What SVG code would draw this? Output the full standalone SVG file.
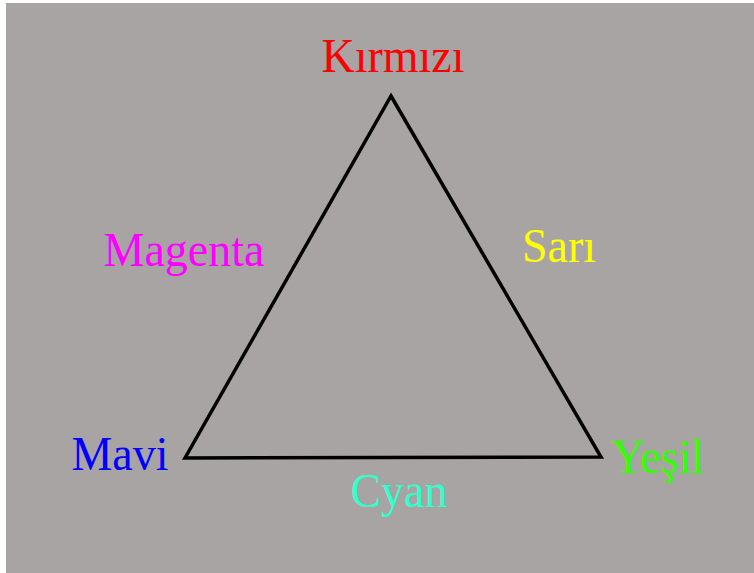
<svg xmlns="http://www.w3.org/2000/svg" width="754" height="573" viewBox="0 0 754 573">
<style>
text{font-family:"Liberation Serif","Times New Roman",serif;font-size:46px}
.edge{fill:none;stroke:#000;stroke-width:3.5;stroke-linejoin:miter}
</style>
<rect x="0" y="0" width="754" height="573" fill="#fff"/>
<rect x="6" y="3" width="748" height="570" fill="#a8a4a4"/>
<g id="connectors">
<polygon class="edge" points="391,96 601,457 185,458"/>
</g>
<g id="kirmizi"><text x="393" y="72" text-anchor="middle" fill="#ff0000" transform="translate(0,72) scale(1,1.05) translate(0,-72)">Kırmızı</text></g>
<g id="magenta"><text x="184" y="266" text-anchor="middle" fill="#ff00ff" transform="translate(0,266) scale(1,1.05) translate(0,-266)">Magenta</text></g>
<g id="sari"><text x="559" y="262" text-anchor="middle" fill="#ffff00" transform="translate(0,262) scale(1,1.05) translate(0,-262)">Sarı</text></g>
<g id="mavi"><text x="120" y="470" text-anchor="middle" fill="#0000ff" transform="translate(0,470) scale(1,1.05) translate(0,-470)">Mavi</text></g>
<g id="yesil"><text x="658" y="473" text-anchor="middle" fill="#33ff00" transform="translate(0,473) scale(1,1.05) translate(0,-473)">Yeşil</text></g>
<g id="cyan"><text x="399" y="507" text-anchor="middle" fill="#33ffcc" transform="translate(0,507) scale(1,1.05) translate(0,-507)">Cyan</text></g>
</svg>
